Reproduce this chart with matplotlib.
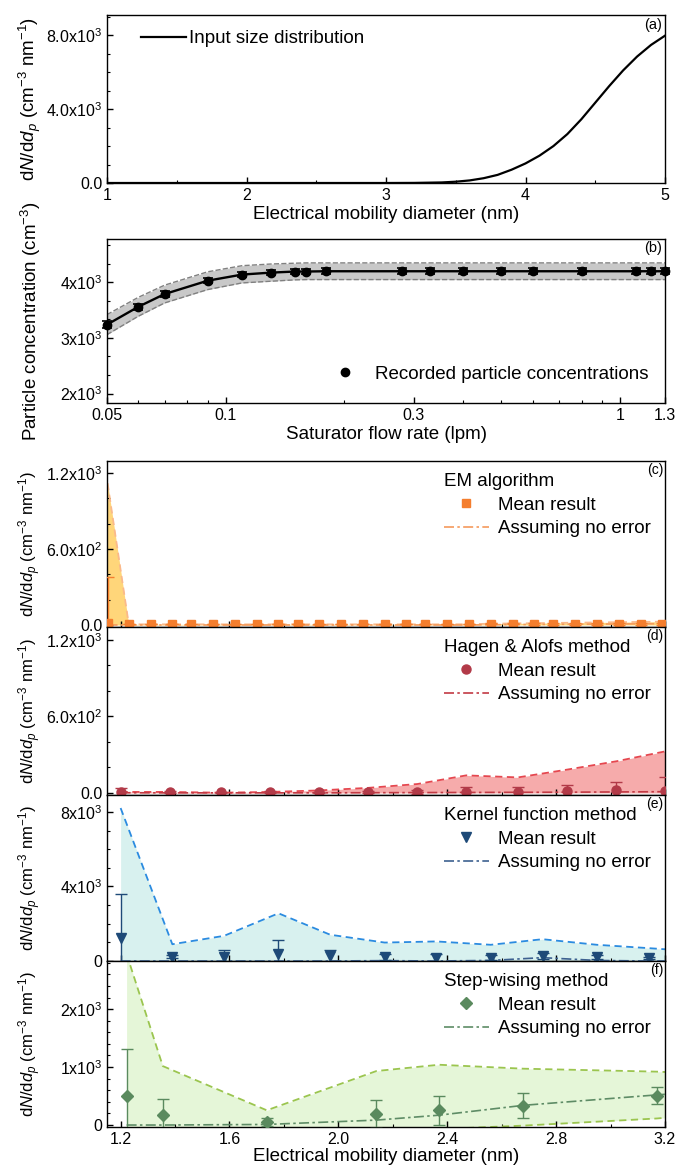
import matplotlib
matplotlib.use('Agg')
import matplotlib.pyplot as plt
from matplotlib.lines import Line2D
from matplotlib.ticker import FixedLocator, MultipleLocator, AutoMinorLocator, LogLocator, NullFormatter

plt.rcParams['font.family'] = 'Liberation Sans'
plt.rcParams['mathtext.fontset'] = 'custom'
plt.rcParams['mathtext.rm'] = 'Liberation Sans'
plt.rcParams['mathtext.it'] = 'Liberation Sans:italic'
plt.rcParams['xtick.direction'] = 'in'
plt.rcParams['ytick.direction'] = 'in'
plt.rcParams['axes.linewidth'] = 1.0

# ---- (a) input size distribution
dia_a = [1.0, 2.0, 3.0, 3.2, 3.4, 3.5, 3.6, 3.7, 3.8, 3.9, 4.0, 4.1, 4.2, 4.3, 4.4, 4.5, 4.6, 4.7, 4.8, 4.9, 5.0]
dndd_a = [0, 0, 0, 5, 30, 70, 140, 260, 440, 720, 1060, 1480, 2000, 2650, 3450, 4350, 5250, 6100, 6850, 7480, 7980]

# ---- (b) recorded concentrations
flow = [0.05, 0.06, 0.07, 0.09, 0.11, 0.13, 0.15, 0.16, 0.18, 0.28, 0.33, 0.4, 0.5, 0.6, 0.8, 1.1, 1.2, 1.3]
conc = [3240, 3560, 3790, 4030, 4140, 4175, 4195, 4195, 4200, 4200, 4200, 4200, 4200, 4200, 4200, 4200, 4200, 4200]
conc_err = [60, 55, 55, 50, 50, 50, 50, 50, 50, 50, 50, 50, 50, 50, 50, 50, 50, 50]
band_hi = [3420, 3730, 3950, 4190, 4300, 4330, 4345, 4350, 4350, 4350, 4350, 4350, 4350, 4350, 4350, 4350, 4350, 4350]
band_lo = [3060, 3390, 3630, 3870, 3990, 4020, 4045, 4050, 4050, 4050, 4050, 4050, 4050, 4050, 4050, 4050, 4050, 4050]

# ---- (c) EM algorithm
x_c = [1.152, 1.23, 1.31, 1.39, 1.46, 1.54, 1.62, 1.70, 1.78, 1.85, 1.93, 2.01, 2.09, 2.17,
       2.25, 2.32, 2.40, 2.48, 2.56, 2.64, 2.72, 2.79, 2.87, 2.95, 3.03, 3.11, 3.19]
mean_c = [15, 8, 8, 8, 8, 8, 8, 8, 8, 8, 8, 8, 8, 8, 8, 8, 8, 8, 8, 8, 8, 8, 8, 8, 9, 10, 10]
err_c = [360, 3, 3, 3, 3, 3, 3, 3, 3, 3, 3, 3, 3, 3, 3, 3, 3, 3, 4, 4, 5, 5, 6, 6, 7, 8, 8]
upper_c = [1120, 5, 5, 5, 5, 5, 5, 5, 5, 5, 5, 5, 5, 5, 5, 5, 5, 6, 10, 12, 14, 16, 18, 20, 22, 24, 26]
noerr_c = [0, 0, 0, 0, 0, 0, 0, 0, 0, 0, 0, 0, 0, 0, 0, 0, 0, 0, 2, 3, 4, 5, 6, 7, 8, 9, 10]

# ---- (d) Hagen & Alofs method
x_d = [1.2, 1.38, 1.57, 1.75, 1.93, 2.11, 2.29, 2.47, 2.66, 2.84, 3.02, 3.2]
mean_d = [8, 6, 5, 6, 4, 6, 8, 10, 10, 12, 20, 12]
err_d = [30, 8, 6, 6, 6, 10, 14, 40, 34, 50, 66, 115]
upper_d = [8, 8, 2, 8, 20, 40, 70, 138, 122, 183, 248, 326]
noerr_d = [2, 1, 1, 1, 1, 2, 3, 4, 5, 6, 8, 10]

# ---- (e) Kernel function method
x_e = [1.2, 1.39, 1.58, 1.78, 1.97, 2.17, 2.36, 2.56, 2.75, 2.95, 3.14]
mean_e = [1260, 230, 230, 360, 270, 230, 180, 180, 290, 220, 180]
err_e = [2315, 95, 350, 760, 330, 170, 220, 145, 160, 105, 55]
x_e_line = [1.2, 1.39, 1.58, 1.78, 1.97, 2.17, 2.36, 2.56, 2.75, 2.95, 3.14, 3.2]
upper_e = [8210, 900, 1350, 2560, 1410, 990, 1050, 870, 1170, 870, 690, 630]
noerr_e = [0, 0, 0, 0, 0, 20, 0, 30, 180, 30, 0, 0]

# ---- (f) Step-wising method
x_f = [1.222, 1.355, 1.737, 2.14, 2.37, 2.68, 3.17]
mean_f = [508, 181, 45, 192, 254, 333, 508]
err_f = [808, 271, 68, 243, 254, 214, 142]
x_f_line = [1.222, 1.355, 1.737, 2.14, 2.37, 2.68, 3.17, 3.2]
upper_f = [2950, 1017, 254, 932, 1040, 972, 921, 915]
lower_f = [-150, -100, -60, -80, -70, -10, 113, 125]
noerr_f = [0, 0, 10, 85, 170, 340, 520, 530]

dia_ticks = [1.2, 1.6, 2.0, 2.4, 2.8, 3.2]
dia_labels = ['1.2', '1.6', '2.0', '2.4', '2.8', '3.2']

ylab = r'd$N$/d$d_p$ (cm$^{-3}$ nm$^{-1}$)'
FS_TICK = 11.5
FS_LAB = 13.5
FS_YLAB_SMALL = 12
FS_LEG = 13.5

W, H = 675, 1169
fig = plt.figure(figsize=(W / 100, H / 100), dpi=100)


def box(top, bottom):
    return [107 / W, 1 - bottom / H, (665 - 107) / W, (bottom - top) / H]


def style(ax):
    ax.tick_params(which='both', top=False, right=False, labelsize=FS_TICK)
    ax.tick_params(which='major', length=4, width=1)
    ax.tick_params(which='minor', length=2.5, width=0.8)
    ax.yaxis.set_label_coords(-0.115, 0.5)


# (a)
ax = fig.add_axes(box(15, 183))
ax.plot(dia_a, dndd_a, color='black', lw=1.6, label='Input size distribution')
ax.set_xlim(1, 5)
ax.set_ylim(0, 9100)
ax.xaxis.set_major_locator(MultipleLocator(1))
ax.xaxis.set_minor_locator(MultipleLocator(0.5))
ax.yaxis.set_major_locator(FixedLocator([0, 4000, 8000]))
ax.yaxis.set_minor_locator(MultipleLocator(1000))
ax.set_yticklabels(['0.0', r'4.0x10$^3$', r'8.0x10$^3$'])
ax.set_xlabel('Electrical mobility diameter (nm)', fontsize=FS_LAB, labelpad=2)
ax.set_ylabel(ylab, fontsize=FS_LAB)
ax.legend(loc='upper left', frameon=False, fontsize=FS_LEG, handlelength=2.4,
          bbox_to_anchor=(0.03, 1.01), handletextpad=0.2)
ax.text(0.995, 0.985, '(a)', transform=ax.transAxes, ha='right', va='top', fontsize=10.5)
style(ax)

# (b)
ax = fig.add_axes(box(239, 403))
ax.fill_between(flow, band_lo, band_hi, color='#c8c8c8', lw=0)
ax.plot(flow, band_hi, color='#808080', lw=1.0, ls='--')
ax.plot(flow, band_lo, color='#808080', lw=1.0, ls='--')
ax.plot(flow, conc, color='black', lw=1.7)
ax.errorbar(flow, conc, yerr=conc_err, fmt='o', color='black', ms=6, capsize=3.5,
            elinewidth=1.2, capthick=1.2, clip_on=False, zorder=5)
ax.set_xscale('log')
ax.set_xlim(0.05, 1.3)
ax.set_ylim(1830, 4780)
ax.xaxis.set_major_locator(FixedLocator([0.05, 0.1, 0.3, 1, 1.3]))
ax.xaxis.set_minor_locator(LogLocator(base=10, subs=range(2, 10), numticks=10))
ax.xaxis.set_minor_formatter(NullFormatter())
ax.set_xticklabels(['0.05', '0.1', '0.3', '1', '1.3'])
ax.yaxis.set_major_locator(FixedLocator([2000, 3000, 4000]))
ax.yaxis.set_minor_locator(AutoMinorLocator(3))
ax.set_yticklabels([r'2x10$^3$', r'3x10$^3$', r'4x10$^3$'])
ax.set_xlabel('Saturator flow rate (lpm)', fontsize=FS_LAB, labelpad=2)
ax.set_ylabel(r'Particle concentration (cm$^{-3}$)', fontsize=FS_LAB)
h = Line2D([], [], marker='o', color='black', ls='none', ms=6)
ax.legend([h], ['Recorded particle concentrations'], loc='lower right', frameon=False,
          fontsize=FS_LEG, handletextpad=0.6, bbox_to_anchor=(1.0, 0.02))
ax.text(0.995, 0.985, '(b)', transform=ax.transAxes, ha='right', va='top', fontsize=10.5)
style(ax)


def method_panel(top, bottom, xm, mean, err, xl, upper, lower, noerr, mk, mcol, fcol, dcol, ncol,
                 title, tag, ylim, ticks, ticklabels, minor, ms):
    ax = fig.add_axes(box(top, bottom))
    ax.fill_between(xl, lower, upper, color=fcol, lw=0, zorder=1)
    ax.plot(xl, upper, color=dcol, lw=1.3, ls=(0, (4, 2.5)), zorder=2)
    if any(v != 0 for v in lower):
        ax.plot(xl, lower, color=dcol, lw=1.3, ls=(0, (4, 2.5)), zorder=2)
    ax.plot(xl, noerr, color=ncol, lw=1.2, ls=(0, (6, 2, 1.5, 2)), zorder=3)
    ax.errorbar(xm, mean, yerr=err, fmt=mk, color=mcol, ms=ms, capsize=4,
                elinewidth=1.0, capthick=1.0, zorder=4)
    ax.set_xlim(1.15, 3.2)
    ax.set_ylim(*ylim)
    ax.xaxis.set_major_locator(FixedLocator(dia_ticks))
    ax.xaxis.set_minor_locator(FixedLocator([1.4, 1.8, 2.2, 2.6, 3.0]))
    ax.yaxis.set_major_locator(FixedLocator(ticks))
    ax.yaxis.set_minor_locator(MultipleLocator(minor))
    ax.set_yticklabels(ticklabels)
    ax.set_ylabel(ylab, fontsize=FS_YLAB_SMALL)
    hm = Line2D([], [], marker=mk, color=mcol, ls='none', ms=ms)
    hl = Line2D([], [], color=ncol, lw=1.2, ls=(0, (6, 2, 1.5, 2)))
    ax.legend([hm, hl], ['Mean result', 'Assuming no error'], title=title,
              loc='upper right', bbox_to_anchor=(1.005, 1.03), frameon=False,
              fontsize=FS_LEG, title_fontsize=FS_LEG, alignment='left',
              handlelength=2.4, handletextpad=0.5, labelspacing=0.35)
    ax.text(0.997, 0.99, tag, transform=ax.transAxes, ha='right', va='top', fontsize=10)
    style(ax)
    return ax


zeros_c = [0] * len(x_c)
zeros_d = [0] * len(x_d)
zeros_e = [0] * len(x_e_line)

axc = method_panel(461, 627, x_c, mean_c, err_c, x_c, upper_c, zeros_c, noerr_c, 's',
                   '#f47e2e', '#ffd67a', '#fab98b', '#f59a5c', 'EM algorithm', '(c)',
                   (-16, 1295), [0, 600, 1200], ['0.0', r'6.0x10$^2$', r'1.2x10$^3$'], 200, 5.5)
axd = method_panel(627, 795, x_d, mean_d, err_d, x_d, upper_d, zeros_d, noerr_d, 'o',
                   '#b23a48', '#f6abab', '#e5474f', '#c23a44', 'Hagen & Alofs method', '(d)',
                   (-16, 1302), [0, 600, 1200], ['0.0', r'6.0x10$^2$', r'1.2x10$^3$'], 200, 6.5)
axe = method_panel(795, 961, x_e, mean_e, err_e, x_e_line, upper_e, zeros_e, noerr_e, 'v',
                   '#1e4a78', '#d8f1ef', '#2b8be0', '#3d6190', 'Kernel function method', '(e)',
                   (0, 8910), [0, 4000, 8000], ['0', r'4x10$^3$', r'8x10$^3$'], 1000, 7)
axf = method_panel(961, 1127, x_f, mean_f, err_f, x_f_line, upper_f, lower_f, noerr_f, 'D',
                   '#5a8a5e', '#e5f6d8', '#9bc54f', '#5e8c66', 'Step-wising method', '(f)',
                   (-34, 2830), [0, 1000, 2000], ['0', r'1x10$^3$', r'2x10$^3$'], 200, 6)
for a in (axc, axd, axe):
    a.tick_params(labelbottom=False)
axf.set_xticklabels(dia_labels)
axf.set_xlabel('Electrical mobility diameter (nm)', fontsize=FS_LAB, labelpad=1)

fig.savefig('out.png', dpi=100)
